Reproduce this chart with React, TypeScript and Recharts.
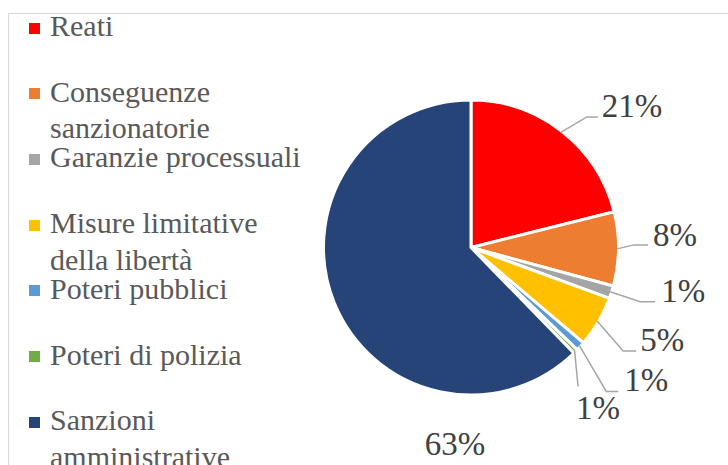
import React from "react";
import { Cell, Pie, PieChart } from "recharts";

const categories = [
  "Reati",
  "Conseguenze sanzionatorie",
  "Garanzie processuali",
  "Misure limitative della libertà",
  "Poteri pubblici",
  "Poteri di polizia",
  "Sanzioni amministrative",
];

const shares = [21.1, 8.1, 1.4, 5.6, 1.0, 0.5, 62.3];

const pctLabels = ["21%", "8%", "1%", "5%", "1%", "1%", "63%"];

const colors = [
  "#FF0000",
  "#ED7D31",
  "#A5A5A5",
  "#FFC000",
  "#5B9BD5",
  "#70AD47",
  "#264478",
];

const data = categories.map((name, i) => ({ name, value: shares[i] }));

// leader line elbow / end and text start, relative to the slice edge point
const labelLayout: { elbow: number[]; end: number[]; text: number[] }[] = [
  { elbow: [26, -15.5], end: [37, -15.5], text: [41, -15.5] },
  { elbow: [17, -4], end: [31, -4], text: [36, -3] },
  { elbow: [30, 10], end: [45, 10], text: [51, 10.5] },
  { elbow: [26, 30], end: [39, 30], text: [43, 30] },
  { elbow: [27, 46], end: [39, 46], text: [45, 46] },
  { elbow: [3.5, 36], end: [3.5, 36], text: [1.5, 69] },
];

const FONT = "serif";
const RADIAN = Math.PI / 180;

const renderLabel = (props: any) => {
  const { cx, cy, midAngle, outerRadius, index } = props;
  if (index === 6) {
    return (
      <text
        x={cx - 16}
        y={cy + 207.5}
        textAnchor="middle"
        fill="#404040"
        fontSize={33}
        fontFamily={FONT}
      >
        {pctLabels[index]}
      </text>
    );
  }
  const r = outerRadius - 1.5;
  const ex = cx + r * Math.cos(-midAngle * RADIAN);
  const ey = cy + r * Math.sin(-midAngle * RADIAN);
  const l = labelLayout[index];
  const pts = [
    [ex, ey],
    [ex + l.elbow[0], ey + l.elbow[1]],
    [ex + l.end[0], ey + l.end[1]],
  ];
  return (
    <g>
      <polyline
        points={pts.map((p) => p.join(",")).join(" ")}
        fill="none"
        stroke="#A6A6A6"
        strokeWidth={1.5}
      />
      <text
        x={ex + l.text[0]}
        y={ey + l.text[1]}
        textAnchor="start"
        fill="#404040"
        fontSize={33}
        fontFamily={FONT}
      >
        {pctLabels[index]}
      </text>
    </g>
  );
};

const App = () => {
  return (
    <div
      style={{
        position: "absolute",
        left: 0,
        top: 0,
        width: 728,
        height: 465,
        overflow: "hidden",
        background: "#fff",
        fontFamily: FONT,
      }}
    >
      {/* chart frame, cropped on the right and bottom */}
      <div
        style={{
          position: "absolute",
          left: 8,
          top: 13,
          width: 760,
          height: 500,
          border: "1px solid #D9D9D9",
        }}
      />

      {/* Legend */}
      <div style={{ position: "absolute", left: 29, top: 0 }}>
        {categories.map((name, i) => (
          <div
            key={name}
            style={{
              position: "absolute",
              top: 8 + i * 65.7,
              left: 0,
              display: "flex",
              alignItems: "flex-start",
              width: 300,
            }}
          >
            <div
              style={{
                width: 11,
                height: 11,
                background: colors[i],
                marginTop: 14.5,
                flexShrink: 0,
              }}
            />
            <div
              style={{
                marginLeft: 10,
                width: 262,
                fontFamily: FONT,
                fontSize: 30,
                lineHeight: "36.5px",
                color: "#595959",
              }}
            >
              {name}
            </div>
          </div>
        ))}
      </div>

      <div style={{ position: "absolute", left: 0, top: 0 }}>
        <PieChart
          width={728}
          height={465}
          margin={{ top: 0, right: 0, bottom: 0, left: 0 }}
          style={{ fontFamily: FONT }}
        >
          <Pie
            data={data}
            dataKey="value"
            nameKey="name"
            cx={471}
            cy={247.5}
            outerRadius={147.5}
            startAngle={90}
            endAngle={-270}
            stroke="#FFFFFF"
            strokeWidth={3}
            label={renderLabel}
            labelLine={false}
            isAnimationActive={false}
          >
            {data.map((entry, index) => (
              <Cell key={`cell-${index}`} fill={colors[index]} />
            ))}
          </Pie>
        </PieChart>
      </div>
    </div>
  );
};

export default App;
